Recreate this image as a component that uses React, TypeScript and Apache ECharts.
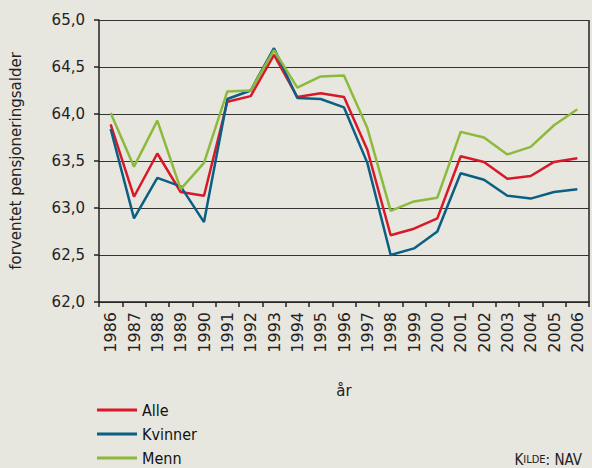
import React, { useEffect, useRef } from "react";
import * as echarts from "echarts";

const years = ["1986","1987","1988","1989","1990","1991","1992","1993","1994","1995","1996","1997","1998","1999","2000","2001","2002","2003","2004","2005","2006"];
const alle = [63.89,63.12,63.58,63.17,63.13,64.13,64.19,64.63,64.18,64.22,64.18,63.62,62.71,62.78,62.89,63.55,63.49,63.31,63.34,63.49,63.53];
const kvinner = [63.84,62.89,63.32,63.23,62.85,64.16,64.25,64.70,64.17,64.16,64.07,63.48,62.50,62.57,62.75,63.37,63.30,63.13,63.10,63.17,63.20];
const menn = [64.01,63.44,63.93,63.20,63.48,64.24,64.25,64.68,64.28,64.40,64.41,63.85,62.97,63.07,63.11,63.81,63.75,63.57,63.65,63.88,64.05];

const FONT = "DejaVu Sans";
const COND = "DejaVu Sans Condensed";

export default function App() {
  const ref = useRef<HTMLDivElement>(null);
  useEffect(() => {
    if (!ref.current) return;
    const chart = echarts.init(ref.current, null, { renderer: "svg" });
    const mk = (name: string, data: number[], color: string) => ({
      name,
      type: "line",
      data,
      showSymbol: false,
      symbol: "none",
      lineStyle: { color, width: 2.5 },
      itemStyle: { color },
    });
    chart.setOption({
      animation: false,
      backgroundColor: "#e7e6df",
      grid: { left: 96, right: 3, top: 20, bottom: 166, show: false },
      xAxis: {
        type: "category",
        data: years,
        boundaryGap: true,
        name: "år",
        nameLocation: "middle",
        nameGap: 81,
        nameTextStyle: { fontFamily: FONT, fontSize: 15, color: "#222" },
        axisLine: { show: true, lineStyle: { color: "#222", width: 1.5 } },
        axisTick: { show: true, length: 5, lineStyle: { color: "#222", width: 1.5 } },
        axisLabel: { rotate: 90, interval: 0, margin: 10, fontFamily: FONT, fontSize: 16, color: "#222" },
        splitLine: { show: false },
      },
      yAxis: {
        type: "value",
        min: 62,
        max: 65,
        interval: 0.5,
        name: "forventet pensjoneringsalder",
        nameLocation: "middle",
        nameGap: 76,
        nameTextStyle: { fontFamily: FONT, fontSize: 15, color: "#222" },
        axisLine: { show: true, lineStyle: { color: "#222", width: 1.5 } },
        axisTick: { show: true, length: 5, lineStyle: { color: "#222", width: 1.5 } },
        axisLabel: {
          margin: 14,
          fontFamily: FONT,
          fontSize: 15,
          color: "#222",
          formatter: (v: number) => v.toFixed(1).replace(".", ","),
        },
        splitLine: { show: true, lineStyle: { color: "#333", width: 1 } },
      },
      legend: {
        orient: "vertical",
        left: 97,
        top: 402,
        padding: 0,
        icon: "rect",
        itemWidth: 40,
        itemHeight: 3,
        itemGap: 8,
        textStyle: { fontFamily: COND, fontSize: 16, color: "#111" },
        data: ["Alle", "Kvinner", "Menn"],
      },
      graphic: [
        { type: "line", shape: { x1: 589, y1: 20, x2: 589, y2: 302 }, style: { stroke: "#222", lineWidth: 1.5 } },
        {
          type: "text",
          right: 10,
          bottom: 1,
          style: {
            text: "{a|K}{b|ILDE}{a|: NAV}",
            fill: "#222",
            rich: {
              a: { fontFamily: COND, fontSize: 15, fill: "#222" },
              b: { fontFamily: COND, fontSize: 11, fill: "#222" },
            },
          },
        },
      ],
      series: [
        mk("Alle", alle, "#d7192a"),
        mk("Kvinner", kvinner, "#0a5f82"),
        mk("Menn", menn, "#8cba3c"),
      ],
    });
    return () => chart.dispose();
  }, []);
  return <div ref={ref} style={{ width: 592, height: 468, position: "absolute", left: 0, top: 0 }} />;
}
